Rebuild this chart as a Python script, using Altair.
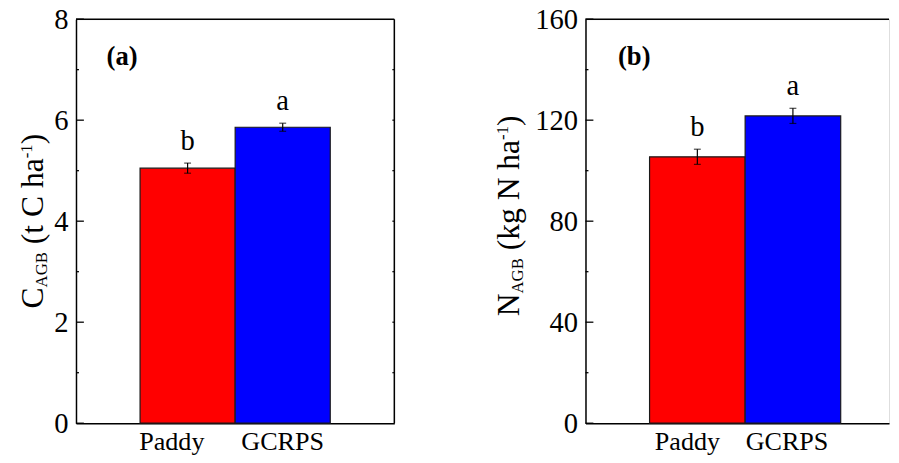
import altair as alt
import pandas as pd

# ---------------- data ----------------
categories = ["Paddy", "GCRPS"]
bar_colors = ["#ff0000", "#0000ff"]

c_agb = [5.05, 5.86]
c_err = [0.10, 0.08]
c_letters = ["b", "a"]

n_agb = [105.5, 121.7]
n_err = [3.0, 3.0]
n_letters = ["b", "a"]

c_major = [0, 2, 4, 6, 8]
c_minor = [1, 3, 5, 7]
n_major = [0, 40, 80, 120, 160]
n_minor = [20, 60, 100, 140]

FONT = "Times New Roman, Liberation Serif, DejaVu Serif, serif"
H = 410
MAIN = 32
SMALL = 17


def panel(values, errs, letters, major, minor, ymax, width, pad_outer, align,
          title_parts, tag, tag_x, paddy_off, gcrps_off, right_frame):
    df = pd.DataFrame({"cat": categories, "v": values, "err": errs, "letter": letters})
    df["lo"] = df["v"] - df["err"]
    df["hi"] = df["v"] + df["err"]

    xscale = alt.Scale(domain=categories, paddingInner=0, paddingOuter=pad_outer, align=align)
    yscale = alt.Scale(domain=[0, ymax], nice=False, zero=True)

    base = alt.Chart(df)
    bars = base.mark_bar(stroke="#1a1a1a", strokeWidth=1.2).encode(
        x=alt.X("cat:N", sort=categories, scale=xscale,
                axis=alt.Axis(title=None, labelAngle=0, ticks=False, labelFont=FONT,
                              labelFontSize=26.5, labelColor="black", labelPadding=6,
                              domainColor="black", domainWidth=1.5,
                              labelOffset=alt.condition("datum.value == 'Paddy'",
                                                        alt.value(paddy_off),
                                                        alt.value(gcrps_off)))),
        y=alt.Y("v:Q", scale=yscale,
                axis=alt.Axis(title=None, values=major, ticks=False, grid=False,
                              labelFont=FONT, labelFontSize=29, labelColor="black",
                              labelPadding=8, domainColor="black", domainWidth=1.5)),
        color=alt.Color("cat:N", scale=alt.Scale(domain=categories, range=bar_colors),
                        legend=None),
    )
    err_rule = base.mark_rule(color="black", strokeWidth=1.2).encode(
        x=alt.X("cat:N", sort=categories),
        y=alt.Y("lo:Q", title=None), y2="hi:Q")
    cap_lo = base.mark_tick(color="black", size=7, thickness=1.2, orient="horizontal").encode(
        x=alt.X("cat:N", sort=categories), y=alt.Y("lo:Q", title=None))
    cap_hi = base.mark_tick(color="black", size=7, thickness=1.2, orient="horizontal").encode(
        x=alt.X("cat:N", sort=categories), y=alt.Y("hi:Q", title=None))
    letters_t = base.mark_text(font=FONT, fontSize=29, baseline="alphabetic", dy=-13,
                               color="black").encode(
        x=alt.X("cat:N", sort=categories), y=alt.Y("hi:Q", title=None), text="letter:N")

    major_t = alt.Chart(pd.DataFrame({"v": major})).mark_rule(
        color="black", strokeWidth=1.3).encode(
        x=alt.value(0), x2=alt.value(8), y=alt.Y("v:Q", title=None))
    minor_t = alt.Chart(pd.DataFrame({"v": minor})).mark_rule(
        color="black", strokeWidth=1.3).encode(
        x=alt.value(0), x2=alt.value(3), y=alt.Y("v:Q", title=None))

    layers = [bars, err_rule, cap_lo, cap_hi, letters_t, major_t, minor_t]

    top_line = alt.Chart(pd.DataFrame({"k": [0]})).mark_rule(
        color="black", strokeWidth=1.5).encode(
        x=alt.value(0), x2=alt.value(width), y=alt.value(0))
    layers.append(top_line)
    if right_frame:
        right_line = alt.Chart(pd.DataFrame({"k": [0]})).mark_rule(
            color="black", strokeWidth=1.5).encode(
            x=alt.value(width), y=alt.value(0), y2=alt.value(H))
        layers.append(right_line)
        right_t = alt.Chart(pd.DataFrame({"v": major[1:-1] + minor})).mark_rule(
            color="black", strokeWidth=1.2).encode(
            x=alt.value(width - 2), x2=alt.value(width), y=alt.Y("v:Q", title=None))
        layers.append(right_t)

    tag_t = alt.Chart(pd.DataFrame({"t": [tag]})).mark_text(
        font=FONT, fontSize=27, fontWeight="bold", align="left",
        baseline="alphabetic", color="black").encode(
        x=alt.value(tag_x), y=alt.value(46.5), text="t:N")
    layers.append(tag_t)

    for txt, size, bx, by in title_parts:
        seg = alt.Chart(pd.DataFrame({"s": [txt]})).mark_text(
            font=FONT, fontSize=size, angle=270, align="left",
            baseline="alphabetic", color="black").encode(
            x=alt.value(bx), y=alt.value(by), text="s:N")
        layers.append(seg)

    return alt.layer(*layers).properties(width=width, height=H)


title_a = [
    ("C", MAIN, -33, 293.5),
    ("AGB", SMALL, -29, 272.2),
    ("(t C ha", MAIN, -33, 228.3),
    ("-1", SMALL, -45, 141.2),
    (")", MAIN, -33, 127.0),
]
title_b = [
    ("N", MAIN, -67, 301.5),
    ("AGB", SMALL, -63, 278.4),
    ("(kg N ha", MAIN, -67, 234.5),
    ("-1", SMALL, -79, 122.5),
    (")", MAIN, -67, 108.3),
]

pa = panel(c_agb, c_err, c_letters, c_major, c_minor, 8, 323, 0.6736, 0.5,
           title_a, "(a)", 31, -16, 0, True)
pb = panel(n_agb, n_err, n_letters, n_major, n_minor, 160, 308, 0.588, 0.570,
           title_b, "(b)", 33, -10, -6, False)

chart = alt.hconcat(pa, pb, spacing=98).properties(
    padding={"left": 9, "top": -7, "right": 0, "bottom": 0}
).configure_view(stroke=None).configure(background="white")

chart.save("out.html", embed_options={"renderer": "svg", "actions": False})
